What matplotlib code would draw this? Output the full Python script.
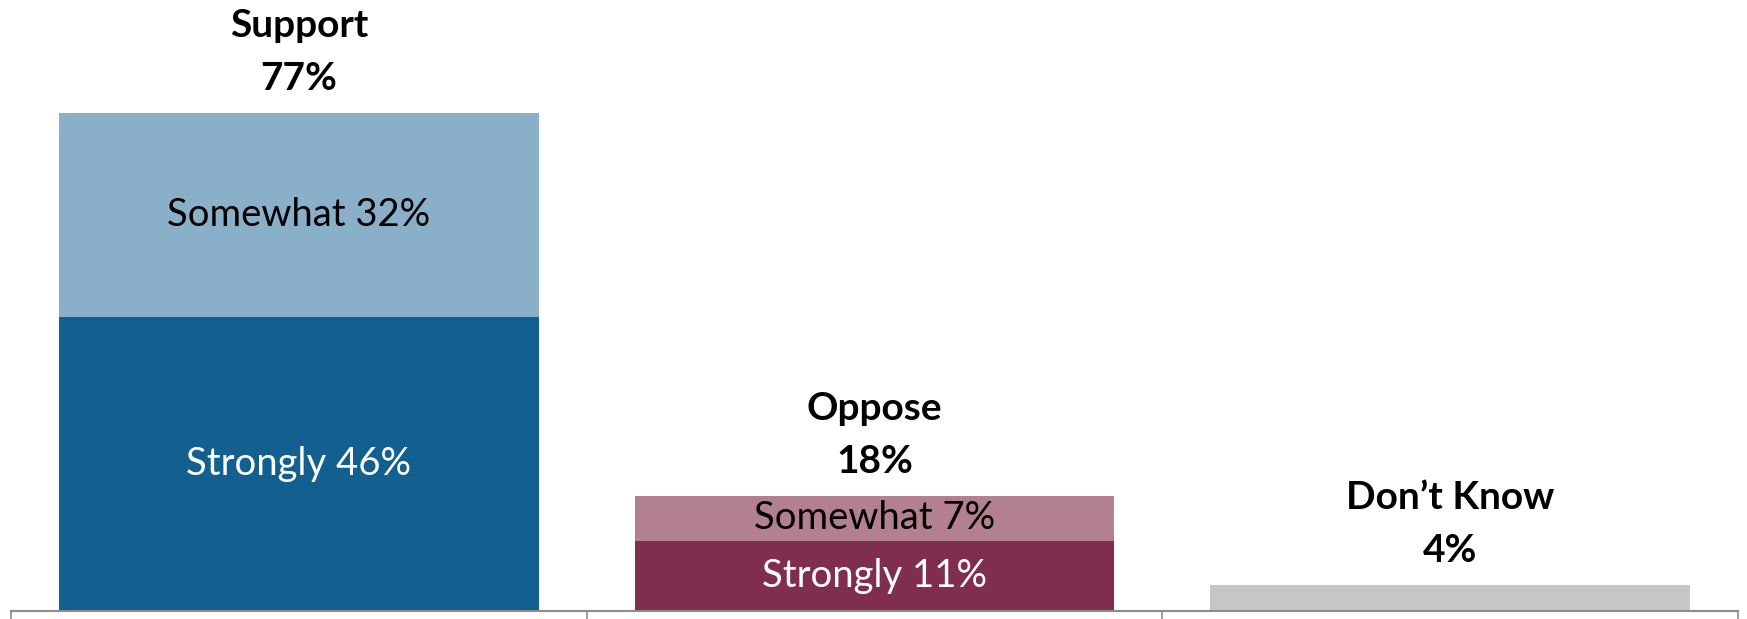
import matplotlib.pyplot as plt

# groups and their stacked pieces (percent)
groups = ["Support", "Oppose", "Don\u2019t Know"]
totals = [77, 18, 4]
strongly = [46, 11, 4]
somewhat = [32, 7, 0]
strong_labels = ["Strongly 46%", "Strongly 11%", ""]
some_labels = ["Somewhat 32%", "Somewhat 7%", ""]

strong_colors = ["#135f8f", "#7f2f4d", "#c6c6c6"]
some_colors = ["#8aafc9", "#b3808f", "#c6c6c6"]

plt.rcParams['font.family'] = ['Lato', 'DejaVu Sans']

fig = plt.figure(figsize=(17.47, 6.19), dpi=100)
ax = fig.add_axes([11/1747, 8/619, 1727/1747, 611/619])

x = range(len(groups))
# Don't Know is one solid bar, so its "strongly" piece carries the whole total
ax.bar(x, strongly, width=0.833, color=strong_colors)
ax.bar(x, somewhat, width=0.833, bottom=strongly, color=some_colors)

for i in x:
    if strong_labels[i]:
        ax.text(i, strongly[i] / 2, strong_labels[i], ha='center', va='center',
                color='white', fontsize=27.5)
    if some_labels[i]:
        ax.text(i, strongly[i] + somewhat[i] / 2, some_labels[i], ha='center',
                va='center', color='black', fontsize=27.5)
    top = max(totals[i], strongly[i] + somewhat[i])
    ax.annotate(f"{totals[i]}%", (i, top), xytext=(0, 25), textcoords='offset points',
                ha='center', va='center', fontsize=28, fontweight='bold')
    ax.annotate(groups[i], (i, top), xytext=(0, 63), textcoords='offset points',
                ha='center', va='center', fontsize=28, fontweight='bold',
                annotation_clip=False)

ax.set_xlim(-0.5, 2.5)
ax.set_ylim(0, 95.7)
ax.set_yticks([])
ax.set_xticks([-0.5, 0.5, 1.5, 2.5])
ax.set_xticklabels([])
ax.tick_params(axis='x', direction='out', length=7, width=1.2, color='#8c8c8c')
for s in ['top', 'left', 'right']:
    ax.spines[s].set_visible(False)
ax.spines['bottom'].set_color('#8c8c8c')
ax.spines['bottom'].set_linewidth(1.5)

fig.savefig("out.png", dpi=100)
